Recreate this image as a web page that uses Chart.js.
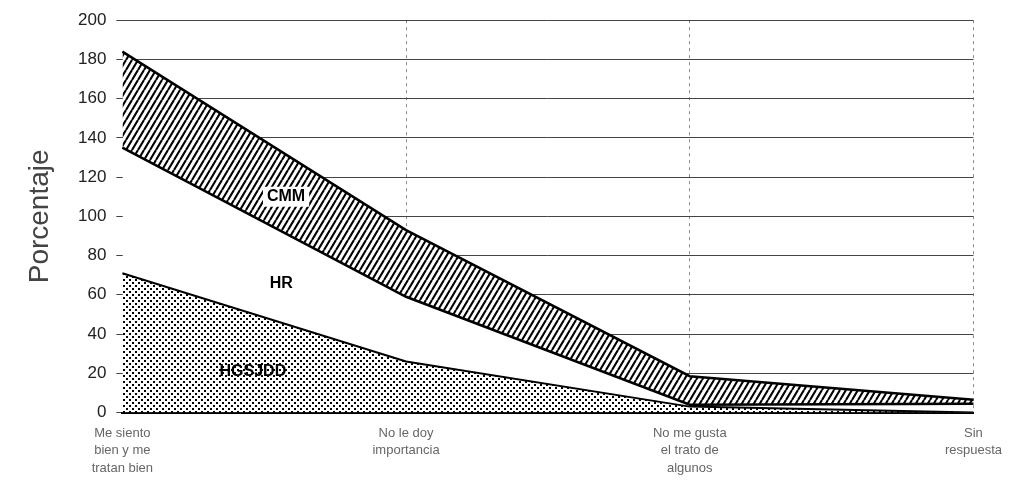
<!DOCTYPE html>
<html>
<head>
<meta charset="utf-8">
<script src="https://cdn.jsdelivr.net/npm/chart.js@4"></script>
<style>
  body { margin: 0; background: #fff; }
  #wrap { width: 1014px; height: 487px; }
</style>
</head>
<body>
<div id="wrap"><canvas id="chart1"></canvas></div>
<script>
const categories = [
    ["Me siento", "bien y me", "tratan bien"],
    ["No le doy", "importancia"],
    ["No me gusta", "el trato de", "algunos"],
    ["Sin", "respuesta"]
];
const hgsjdd = [71, 26, 3, 0];
const hr = [64, 33, 1, 4.5];
const cmm = [49, 34, 14.5, 2];
const yTicks = [0, 20, 40, 60, 80, 100, 120, 140, 160, 180, 200];

function hatch_pattern() {
    const w = 6, h = 10;
    const c = document.createElement('canvas');
    c.width = w; c.height = h;
    const g = c.getContext('2d');
    g.fillStyle = '#fff';
    g.fillRect(0, 0, w, h);
    g.strokeStyle = '#000';
    g.lineWidth = 2.1;
    g.beginPath();
    for (let k = -1; k <= 1; k++) {
        g.moveTo(k * w, h);
        g.lineTo(k * w + w, 0);
    }
    g.stroke();
    return g.createPattern(c, 'repeat');
}

function dot_pattern() {
    const c = document.createElement('canvas');
    c.width = 6; c.height = 6;
    const g = c.getContext('2d');
    g.fillStyle = '#fff';
    g.fillRect(0, 0, 6, 6);
    g.fillStyle = '#000';
    g.fillRect(0, 0, 2, 2);
    g.fillRect(3, 3, 2, 2);
    return g.createPattern(c, 'repeat');
}

// area names drawn inside the chart
const areaText = {
    id: 'areaText',
    afterDatasetsDraw(chart) {
        const ctx = chart.ctx;
        const xs = chart.scales.x, ys = chart.scales.y;
        const px = f => xs.getPixelForValue(0) + (xs.getPixelForValue(1) - xs.getPixelForValue(0)) * f;
        const items = [
            { text: 'CMM', f: 0.577, v: 110, bg: true },
            { text: 'HR', f: 0.56, v: 65.5, bg: false },
            { text: 'HGSJDD', f: 0.46, v: 21, bg: false }
        ];
        ctx.save();
        ctx.font = 'bold 16px "Liberation Sans", Arial, sans-serif';
        ctx.textAlign = 'center';
        ctx.textBaseline = 'middle';
        items.forEach(it => {
            const x = px(it.f), y = ys.getPixelForValue(it.v);
            if (it.bg) {
                const w = ctx.measureText(it.text).width;
                ctx.fillStyle = '#fff';
                ctx.fillRect(x - w / 2 - 4, y - 10, w + 8, 20);
            }
            ctx.fillStyle = '#000';
            ctx.fillText(it.text, x, y);
        });
        ctx.restore();
    }
};

const ctx = document.getElementById('chart1');
new Chart(ctx, {
    type: 'line',
    data: {
        labels: categories,
        datasets: [{
            label: 'HGSJDD',
            data: hgsjdd,
            fill: 'origin',
            backgroundColor: dot_pattern(),
            borderColor: '#000',
            borderWidth: 2,
            pointRadius: 0,
            tension: 0
        }, {
            label: 'HR',
            data: hr,
            fill: '-1',
            backgroundColor: '#fff',
            borderColor: '#000',
            borderWidth: 2.5,
            pointRadius: 0,
            tension: 0
        }, {
            label: 'CMM',
            data: cmm,
            fill: '-1',
            backgroundColor: hatch_pattern(),
            borderColor: '#000',
            borderWidth: 2.5,
            pointRadius: 0,
            tension: 0
        }]
    },
    options: {
        responsive: true,
        maintainAspectRatio: false,
        animation: { duration: 0 },
        layout: { padding: { top: 16, right: 2, left: 24, bottom: -2 } },
        plugins: {
            legend: { display: false },
            tooltip: { enabled: false }
        },
        scales: {
            x: {
                offset: false,
                grid: {
                    color: c => c.index === 0 ? 'rgba(0,0,0,0)' : '#888',
                    lineWidth: 1,
                    drawTicks: false
                },
                border: { color: '#000', width: 2, dash: [3, 4] },
                ticks: {
                    color: '#666',
                    font: { family: '"Liberation Sans", Arial, sans-serif', size: 13, lineHeight: '17.5px' },
                    padding: 12,
                    maxRotation: 0,
                    autoSkip: false
                }
            },
            y: {
                stacked: true,
                min: 0,
                max: 200,
                afterBuildTicks(axis) { axis.ticks = yTicks.map(v => ({ value: v })); },
                grid: { color: '#444', lineWidth: 1, tickLength: 6 },
                border: { display: false },
                ticks: {
                    color: '#222',
                    font: { family: '"Liberation Sans", Arial, sans-serif', size: 17 },
                    padding: 10
                },
                title: {
                    display: true,
                    text: 'Porcentaje',
                    color: '#444',
                    font: { family: '"Liberation Sans", Arial, sans-serif', size: 28, lineHeight: '32px' },
                    padding: { top: 0, bottom: 12 }
                }
            }
        }
    },
    plugins: [areaText]
});
</script>
</body>
</html>
